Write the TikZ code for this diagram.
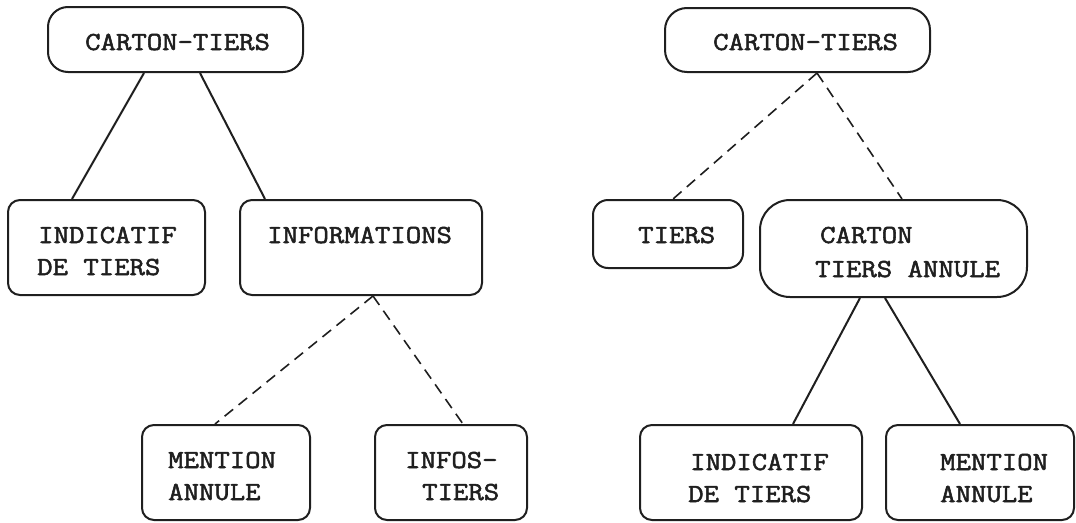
\documentclass[tikz,border=0pt]{standalone}
\usepackage{fontspec}
\newfontfamily\typewriter{Latin Modern Mono}[FakeStretch=1.15, FakeBold=2]
\begin{document}
\begin{tikzpicture}[x=1pt,y=-1pt,
  ink/.style={draw=black!88, line width=2pt},
  box/.style={ink, rectangle, rounded corners=#1, inner sep=0pt},
  box/.default=12pt,
  txt/.style={anchor=base west, inner sep=0pt, font=\typewriter\fontsize{26}{26}\selectfont, text=black!88},
  link/.style={ink, line width=2pt},
  opt/.style={ink, line width=1.6pt, dash pattern=on 11pt off 7pt}]
\useasboundingbox (0,0) rectangle (1076,522);

% left tree
\node[box=20pt, minimum width=255pt, minimum height=65pt] (ctA) at (175.5,39.5) {};
\node[txt] at (85,50) {CARTON-TIERS};
\node[box, minimum width=197pt, minimum height=95pt] (indA) at (106.5,247.5) {};
\node[txt] at (38,243) {INDICATIF};
\node[txt] at (37,275) {DE TIERS};
\node[box, minimum width=242pt, minimum height=95pt] (info) at (361,247.5) {};
\node[txt] at (267,243) {INFORMATIONS};
\node[box, minimum width=168pt, minimum height=95pt] (mentA) at (226,472.5) {};
\node[txt] at (168,468) {MENTION};
\node[txt] at (168,500) {ANNULE};
\node[box, minimum width=152pt, minimum height=95pt] (infos) at (451,472.5) {};
\node[txt] at (405,468) {INFOS-};
\node[txt] at (422,500) {TIERS};

\draw[link] ([xshift=-31.5pt]ctA.south) -- ([xshift=-34.5pt]indA.north);
\draw[link] ([xshift=24.5pt]ctA.south) -- ([xshift=-96pt]info.north);
\draw[opt] ([xshift=12pt]info.south) -- ([xshift=-11pt]mentA.north);
\draw[opt] ([xshift=12pt]info.south) -- ([xshift=12pt]infos.north);

% right tree
\node[box=22pt, minimum width=265pt, minimum height=64pt] (ctB) at (797.5,40) {};
\node[txt] at (713,50) {CARTON-TIERS};
\node[box=15pt, minimum width=150pt, minimum height=68pt] (tiers) at (668,234) {};
\node[txt] at (638,243) {TIERS};
\node[box=30pt, minimum width=267pt, minimum height=97pt] (cta) at (893.5,248.5) {};
\node[txt] at (820,243) {CARTON};
\node[txt] at (815,277) {TIERS ANNULE};
\node[box, minimum width=222pt, minimum height=95pt] (indB) at (751,472.5) {};
\node[txt] at (690,470) {INDICATIF};
\node[txt] at (688,502) {DE TIERS};
\node[box, minimum width=188pt, minimum height=95pt] (mentB) at (980,472.5) {};
\node[txt] at (940,470) {MENTION};
\node[txt] at (940,502) {ANNULE};

\draw[opt] ([xshift=19.5pt]ctB.south) -- ([xshift=5pt]tiers.north);
\draw[opt] ([xshift=19.5pt]ctB.south) -- ([xshift=8.5pt]cta.north);
\draw[link] ([xshift=-33.5pt]cta.south) -- ([xshift=42pt]indB.north);
\draw[link] ([xshift=-8.5pt]cta.south) -- ([xshift=-20pt]mentB.north);
\end{tikzpicture}
\end{document}
